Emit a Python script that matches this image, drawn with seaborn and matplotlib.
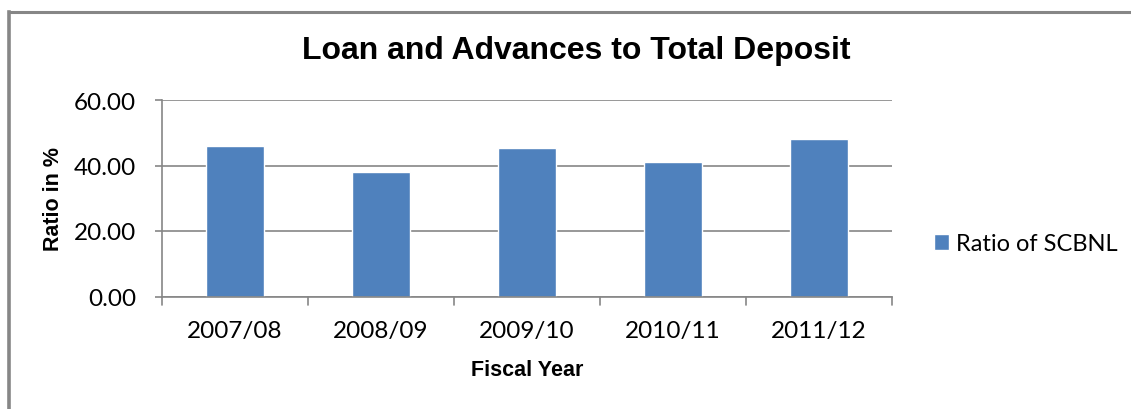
import matplotlib
matplotlib.use("Agg")
import matplotlib.pyplot as plt
import seaborn as sns
import pandas as pd
from matplotlib.lines import Line2D

years = ["2007/08", "2008/09", "2009/10", "2010/11", "2011/12"]
ratios = [46.1, 38.1, 45.4, 41.1, 48.2]
series_name = "Ratio of SCBNL"
yticks = [0, 20, 40, 60]

df = pd.DataFrame({"Fiscal Year": years, "Ratio": ratios, "Series": series_name})

sns.set_theme(style="white")
plt.rcParams['font.family'] = ['Lato', 'DejaVu Sans']
plt.rcParams['text.color'] = 'black'
plt.rcParams['xtick.color'] = 'black'
plt.rcParams['ytick.color'] = 'black'
plt.rcParams['axes.labelcolor'] = 'black'

W, H = 1131, 410
AX_L, AX_R, AX_T, AX_B = 162, 892, 101, 297.5
fig = plt.figure(figsize=(W / 100, H / 100), dpi=100)
ax = fig.add_axes([AX_L / W, 1 - AX_B / H, (AX_R - AX_L) / W, (AX_B - AX_T) / H])

bar_color = "#4F81BD"
sns.barplot(data=df, x="Fiscal Year", y="Ratio", hue="Series", palette=[bar_color],
            width=0.4, saturation=1, ax=ax, legend=True)

grey = "#868686"
ax.set_ylim(0, 60)
ax.set_yticks(yticks)
ax.set_yticklabels([f"{v:.2f}" for v in yticks], fontsize=17.5)
ax.set_xlim(-0.5, 4.5)
ax.tick_params(axis='x', labelsize=17.5, length=0, pad=17)
ax.tick_params(axis='y', left=True, length=5, color=grey, width=1.2, pad=13.5)
for t in [-0.5, 0.5, 1.5, 2.5, 3.5, 4.5]:
    ax.plot([t, t], [0, -2.7], color=grey, lw=1.2, clip_on=False, zorder=5)
ax.yaxis.grid(True, color=grey, lw=1.2)
ax.set_axisbelow(True)
for s in ["top", "right"]:
    ax.spines[s].set_visible(False)
for s in ["left", "bottom"]:
    ax.spines[s].set_color(grey)
    ax.spines[s].set_linewidth(1.2)

ax.set_xlabel("Fiscal Year", fontsize=15.5, fontweight="bold", family="Liberation Sans")
ax.set_ylabel("Ratio in %", fontsize=15.5, fontweight="bold", family="Liberation Sans")
ax.xaxis.set_label_coords(0.5 + ((527 - (AX_L + AX_R) / 2) / (AX_R - AX_L)),
                          -(371 - AX_B) / (AX_B - AX_T), transform=ax.transAxes)
ax.xaxis.label.set_va("center")
ax.yaxis.set_label_coords(-(AX_L - 54) / (AX_R - AX_L), 0.5, transform=ax.transAxes)
ax.yaxis.label.set_va("center")

fig.text(576 / W, 1 - 51 / H, "Loan and Advances to Total Deposit", ha="center", va="center",
         fontsize=23, fontweight="bold", family="Liberation Sans")

leg = ax.legend(loc="center left",
                bbox_to_anchor=((934 - AX_L) / (AX_R - AX_L), (AX_B - 245) / (AX_B - AX_T)),
                frameon=False, fontsize=17, handlelength=0.65, handleheight=0.65,
                handletextpad=0.3, borderpad=0, borderaxespad=0)

# chart-area border (top and left edges visible in the reference)
fig.add_artist(Line2D([8.5 / W, 1.0], [1 - 12.5 / H, 1 - 12.5 / H], transform=fig.transFigure,
                      color=grey, lw=2.2, solid_capstyle="projecting"))
fig.add_artist(Line2D([8.5 / W, 8.5 / W], [0.0, 1 - 12.5 / H], transform=fig.transFigure,
                      color=grey, lw=2.6, solid_capstyle="projecting"))

fig.savefig("out.png", dpi=100)
